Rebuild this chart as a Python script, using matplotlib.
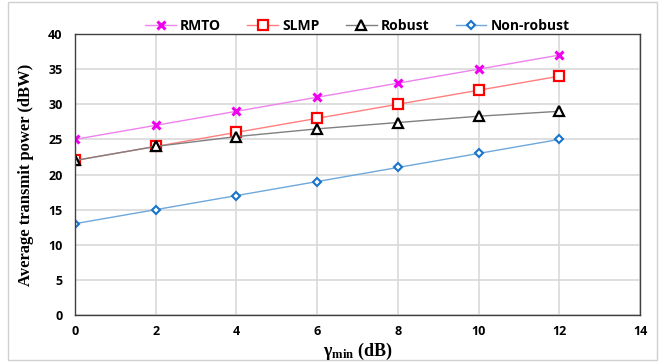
import numpy as np
import matplotlib
matplotlib.use("Agg")
import matplotlib.pyplot as plt
from matplotlib.patches import Rectangle

gamma_min = [0, 2, 4, 6, 8, 10, 12]
rmto = [25, 27, 29, 31, 33, 35, 37]
slmp = [22, 24, 26, 28, 30, 32, 34]
robust = [22, 24, 25.4, 26.5, 27.4, 28.3, 29]
non_robust = [13, 15, 17, 19, 21, 23, 25]

plt.rcParams.update({
    "font.family": ["Open Sans", "DejaVu Sans"],
    "mathtext.fontset": "custom",
    "mathtext.rm": "Liberation Serif",
    "mathtext.bf": "Liberation Serif:bold",
    "mathtext.it": "Liberation Serif:italic",
})

fig = plt.figure(figsize=(6.66, 3.62), dpi=100)
ax = fig.add_axes([0.1126, 0.1298, 0.8484, 0.7762])

ax.plot(gamma_min, rmto, color="#EE82EE", lw=1.0, marker="x", ms=6, mew=2.2,
        mec="#EE00EE", label="RMTO")
ax.plot(gamma_min, slmp, color="#FF7F7F", lw=1.0, marker="s", ms=7, mew=1.6,
        mec="#FF0000", mfc="white", label="SLMP")
ax.plot(gamma_min, robust, color="#808080", lw=1.0, marker="^", ms=6.5, mew=1.6,
        mec="black", mfc="white", label="Robust")
ax.plot(gamma_min, non_robust, color="#6FA8DC", lw=1.0, marker="D", ms=4.5, mew=1.5,
        mec="#1874CD", mfc="white", label="Non-robust")

ax.set_xlim(0, 14)
ax.set_ylim(0, 40)
ax.set_xticks(np.arange(0, 15, 2))
ax.set_yticks(np.arange(0, 41, 5))
ax.tick_params(length=0, labelsize=9)
ax.tick_params(axis="x", pad=7)
ax.tick_params(axis="y", pad=9)
for lab in ax.get_xticklabels() + ax.get_yticklabels():
    lab.set_fontweight("bold")
ax.grid(True, color="#D9D9D9", lw=1.2)
ax.set_axisbelow(True)
for s in ax.spines.values():
    s.set_linewidth(1.0)
    s.set_color("#404040")

ax.set_ylabel("Average transmit power (dBW)", family="Liberation Serif",
              fontweight="bold", fontsize=12, labelpad=10)
fig.text(0.1126 + 0.8484 / 2, 0.028, "γ$_{\\mathbf{min}}$ (dB)",
         family="Liberation Serif", fontweight="bold", fontsize=13,
         ha="center", va="center")

leg = ax.legend(loc="lower center", bbox_to_anchor=(0.5, 0.98), ncol=4, frameon=False,
                fontsize=10, handlelength=2.2, columnspacing=1.9, handletextpad=0.3,
                borderaxespad=0.1)
for t in leg.get_texts():
    t.set_fontweight("bold")

fig.patches.append(Rectangle((0.012, 0.005), 0.975, 0.99, transform=fig.transFigure,
                             fill=False, edgecolor="#D0D0D0", lw=1.0))

fig.savefig("out.png", dpi=100)
